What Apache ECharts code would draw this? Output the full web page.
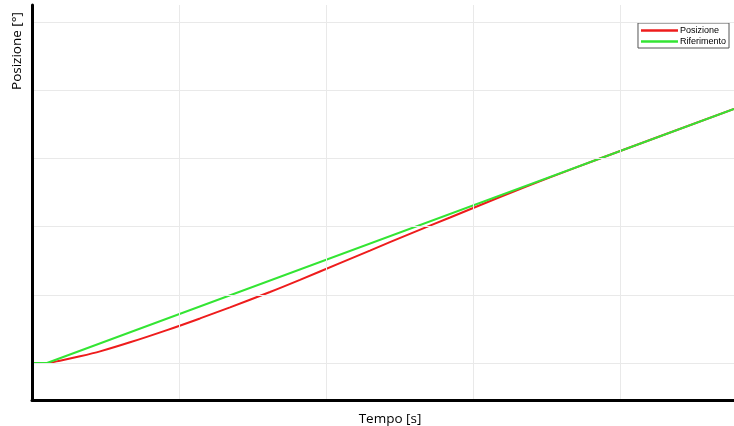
<!DOCTYPE html>
<html>
<head>
<meta charset="utf-8">
<script src="https://cdn.jsdelivr.net/npm/echarts@6/dist/echarts.min.js"></script>
<style>html,body{margin:0;padding:0;background:#fff}#c{width:734px;height:426px}</style>
</head>
<body>
<div id="c"></div>
<script>
// Tempo [s] vs Posizione [°] (no tick labels in the original)
const posizioneT = [0, 0.102, 0.190, 0.327, 0.463, 0.667, 0.918, 1.143, 1.347, 1.619, 1.823, 2.095, 2.299, 2.571, 2.844, 3.184, 3.524, 3.864, 4.776];
const posizioneY = [0, 0, 0.034, 0.098, 0.170, 0.303, 0.482, 0.653, 0.816, 1.040, 1.218, 1.464, 1.648, 1.894, 2.133, 2.434, 2.722, 2.998, 3.724];
const riferimentoT = [0, 0.102, 4.776];
const riferimentoY = [0, 0, 3.724];
const gridX = [1, 2, 3, 4];
const gridY = [0, 1, 2, 3, 4, 5];
const seriesNames = ['Posizione', 'Riferimento'];
const xTitle = 'Tempo [s]';
const yTitle = 'Posizione [°]';

const pair = (a, b) => a.map((v, i) => [v, b[i]]);
const chart = echarts.init(document.getElementById('c'), null, {renderer: 'canvas'});
const gridLineStyle = {color: '#e9e9e9', width: 1, type: 'solid'};
const lineIcon = 'path://M0,0h37v2.5h-37z';
chart.setOption({
  animation: false,
  backgroundColor: '#fff',
  grid: {left: 32, right: 0, top: 5, bottom: 26, containLabel: false, outerBoundsMode: 'none'},
  xAxis: {
    type: 'value', min: 0, max: 4.776, z: 10,
    axisLine: {show: true, onZero: false, lineStyle: {color: '#000', width: 3}},
    axisTick: {show: false}, axisLabel: {show: false}, splitLine: {show: false},
    name: xTitle, nameLocation: 'middle', nameGap: 12,
    nameTextStyle: {fontFamily: 'Open Sans', fontSize: 13.5, color: '#000', padding: [0, 0, 0, 14]}
  },
  yAxis: {
    type: 'value', min: -0.543, max: 5.249, z: 10,
    axisLine: {show: true, onZero: false, lineStyle: {color: '#000', width: 3}},
    axisTick: {show: false}, axisLabel: {show: false}, splitLine: {show: false}
  },
  graphic: [{
    type: 'text', x: 17, y: 51, rotation: Math.PI / 2,
    style: {text: yTitle, fontFamily: 'Open Sans', fontSize: 13.5, fill: '#000', align: 'center', verticalAlign: 'middle'}
  }],
  legend: {
    orient: 'vertical', right: 5, top: 23,
    itemWidth: 37, itemHeight: 11, itemGap: 2,
    padding: [3, 3, 2, 3],
    symbolKeepAspect: true,
    backgroundColor: '#fff', borderColor: '#555', borderWidth: 1, borderRadius: 0,
    textStyle: {fontFamily: 'Liberation Sans', fontSize: 9, color: '#000', padding: [0, 0, 0, -3]},
    data: seriesNames.map(n => ({name: n, icon: lineIcon}))
  },
  series: [
    {
      type: 'line', silent: true, data: [], z: 1,
      markLine: {
        silent: true, symbol: ['none', 'none'], label: {show: false},
        lineStyle: gridLineStyle, animation: false,
        data: gridX.map(v => ({xAxis: v})).concat(gridY.map(v => ({yAxis: v})))
      }
    },
    {
      name: seriesNames[0], type: 'line', data: pair(posizioneT, posizioneY),
      smooth: 0.3, showSymbol: false, symbol: 'none', z: 3,
      lineStyle: {color: '#ee1c1c', width: 2}, itemStyle: {color: '#ee1c1c'}
    },
    {
      name: seriesNames[1], type: 'line', data: pair(riferimentoT, riferimentoY),
      showSymbol: false, symbol: 'none', z: 4,
      lineStyle: {color: '#33e533', width: 2}, itemStyle: {color: '#33e533'}
    }
  ]
});
</script>
</body>
</html>
